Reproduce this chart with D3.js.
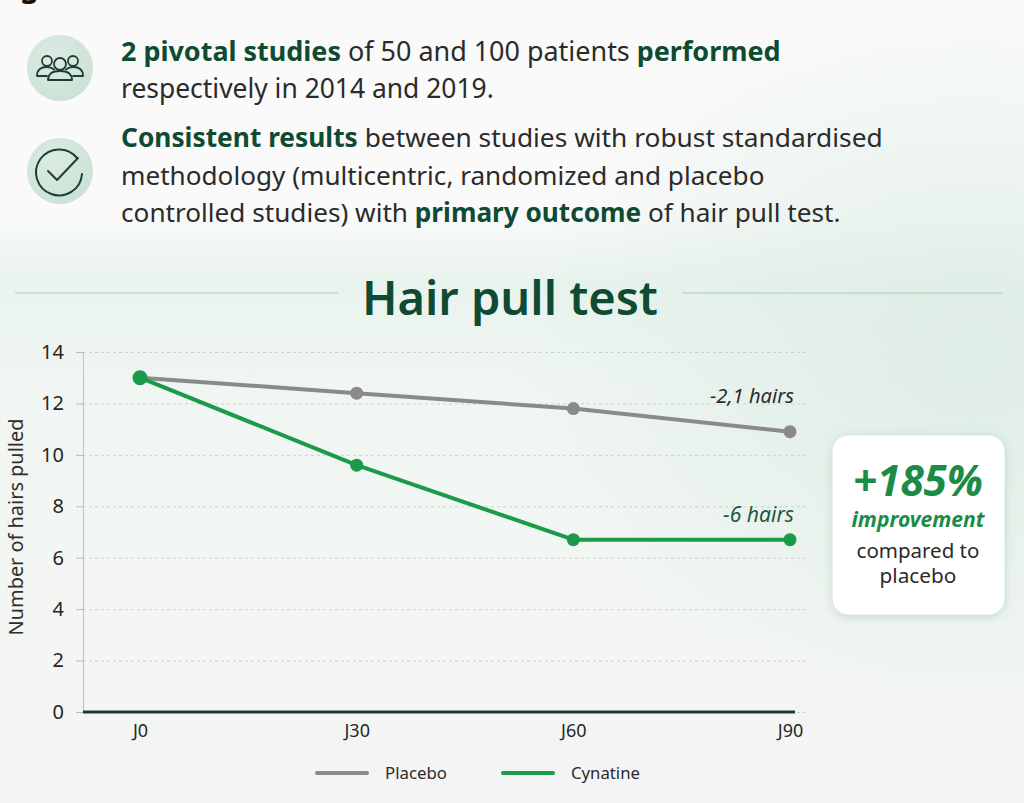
<!DOCTYPE html>
<html>
<head>
<meta charset="utf-8">
<script src="https://cdn.jsdelivr.net/npm/d3@7"></script>
<style>
  html, body { margin: 0; padding: 0; background: #f7f8f7; }
  svg { display: block; font-family: "Noto Sans", "Open Sans", sans-serif; }
</style>
</head>
<body>
<svg id="chart" width="1024" height="803"></svg>
<script>
// ---------- data ----------
const days = ["J0", "J30", "J60", "J90"];
const placebo = [13.0, 12.4, 11.8, 10.9];
const cynatine = [13.0, 9.6, 6.7, 6.7];
const yTicks = [0, 2, 4, 6, 8, 10, 12, 14];
const seriesNames = ["Placebo", "Cynatine"];
const annotations = ["-2,1 hairs", "-6 hairs"];
const boxLines = ["+185%", "improvement", "compared to", "placebo"];
const chartTitle = "Hair pull test";
const yLabel = "Number of hairs pulled";
const headerLines = [
  [["b", "2 pivotal studies"], ["r", " of 50 and 100 patients "], ["b", "performed"]],
  [["r", "respectively in 2014 and 2019."]],
  [["b", "Consistent results"], ["r", " between studies with robust standardised"]],
  [["r", "methodology (multicentric, randomized and placebo"]],
  [["r", "controlled studies) with "], ["b", "primary outcome"], ["r", " of hair pull test."]]
];

// ---------- colours ----------
const C = {
  darkGreen: "#0f4a33",
  text: "#2b2b2b",
  gray: "#8a8a8a",
  green: "#1b9a4a",
  boxGreen: "#1a8c48",
  grid: "#c9d3ce",
  axis: "#1d3b2f"
};

const svg = d3.select("#chart");
const W = 1024, H = 803;

// ---------- background ----------
const defs = svg.append("defs");
const bg = defs.append("linearGradient").attr("id", "bgGrad").attr("x1", 0).attr("y1", 0).attr("x2", 0).attr("y2", 1);
[[0, "#fafafa"], [0.27, "#f9faf9"], [0.35, "#e9f3ee"], [0.5, "#f1f6f3"], [0.8, "#f4f6f4"], [1, "#f3f4f3"]]
  .forEach(s => bg.append("stop").attr("offset", s[0]).attr("stop-color", s[1]));
const rg = defs.append("radialGradient").attr("id", "rGrad").attr("cx", 0.95).attr("cy", 0.45).attr("r", 0.45);
rg.append("stop").attr("offset", 0).attr("stop-color", "#dcece4").attr("stop-opacity", 0.9);
rg.append("stop").attr("offset", 1).attr("stop-color", "#dcece4").attr("stop-opacity", 0);
const iconGrad = defs.append("radialGradient").attr("id", "iconGrad").attr("cx", 0.4).attr("cy", 0.35).attr("r", 0.7);
iconGrad.append("stop").attr("offset", 0).attr("stop-color", "#dcebe3");
iconGrad.append("stop").attr("offset", 1).attr("stop-color", "#cbe1d6");
const shadow = defs.append("filter").attr("id", "shadow").attr("x", "-20%").attr("y", "-20%").attr("width", "140%").attr("height", "140%");
shadow.append("feDropShadow").attr("dx", 0).attr("dy", 2).attr("stdDeviation", 5)
  .attr("flood-color", "#6fa98c").attr("flood-opacity", 0.3);

svg.append("rect").attr("width", W).attr("height", H).attr("fill", "url(#bgGrad)");
svg.append("rect").attr("width", W).attr("height", H).attr("fill", "url(#rGrad)");

// fragment of previous heading at very top (cut off in the original as well)
svg.append("text").attr("x", 20).attr("y", -3).attr("font-size", 30).attr("font-weight", 700)
  .attr("fill", "#111").text("g");

// ---------- helper ----------
function fit(sel, width) {
  const l = sel.node().getComputedTextLength();
  const fs = parseFloat(sel.attr("font-size"));
  sel.attr("font-size", fs * width / l);
}

// ---------- header icons ----------
const icon1 = svg.append("g").attr("transform", "translate(60,68)");
icon1.append("circle").attr("r", 33).attr("fill", "url(#iconGrad)");
const ic = { fill: "none", stroke: "#1d3f33", "stroke-width": 1.8, "stroke-linejoin": "round", "stroke-linecap": "round" };
function applyIc(s) { Object.entries(ic).forEach(([k, v]) => s.attr(k, v)); return s; }
applyIc(icon1.append("circle").attr("cx", 0).attr("cy", -4).attr("r", 6));
applyIc(icon1.append("circle").attr("cx", -13).attr("cy", -7).attr("r", 5));
applyIc(icon1.append("circle").attr("cx", 13).attr("cy", -7).attr("r", 5));
applyIc(icon1.append("path").attr("d", "M-12,12 Q-12,3 0,3 Q12,3 12,12 Z"));
applyIc(icon1.append("path").attr("d", "M-13,8 L-23,8 Q-23,-1 -13,-1 Q-9,-1 -6,1.5"));
applyIc(icon1.append("path").attr("d", "M13,8 L23,8 Q23,-1 13,-1 Q9,-1 6,1.5"));

const icon2 = svg.append("g").attr("transform", "translate(60,171)");
icon2.append("circle").attr("r", 33).attr("fill", "url(#iconGrad)");
applyIc(icon2.append("path").attr("d", "M17,-13 A23,23 0 1 0 22,3")).attr("stroke-width", 2);
applyIc(icon2.append("path").attr("d", "M-12,0 L-3,9 L18,-13")).attr("stroke-width", 2);

// ---------- header text ----------
const headerBaselines = [61, 98, 147, 185, 222];
const headerWidths = [660, 373, 762, 644, 720];
headerLines.forEach((parts, i) => {
  const t = svg.append("text").attr("x", 121).attr("y", headerBaselines[i]).attr("font-size", 27);
  parts.forEach(([k, s]) => {
    t.append("tspan")
      .attr("font-weight", k === "b" ? 700 : 400)
      .attr("fill", k === "b" ? C.darkGreen : C.text)
      .text(s);
  });
  fit(t, headerWidths[i]);
});

// ---------- title ----------
const title = svg.append("text").attr("x", 510).attr("y", 315).attr("text-anchor", "middle")
  .attr("font-size", 54).attr("font-weight", 600).attr("fill", C.darkGreen).text(chartTitle);
fit(title, 296);
svg.append("line").attr("x1", 15).attr("x2", 338).attr("y1", 293).attr("y2", 293)
  .attr("stroke", "#bcd8cb").attr("stroke-width", 1.5);
svg.append("line").attr("x1", 682).attr("x2", 1003).attr("y1", 293).attr("y2", 293)
  .attr("stroke", "#bcd8cb").attr("stroke-width", 1.5);

// ---------- chart ----------
const plotLeft = 83, plotRight = 795, gridRight = 808;
const x = d3.scalePoint().domain(days).range([140, 790]);
const y = d3.scaleLinear().domain([0, 14]).range([712, 352]);

// gridlines
const grid = svg.append("g").attr("transform", `translate(${plotLeft},0)`)
  .call(d3.axisLeft(y).tickValues(yTicks).tickSize(-(gridRight - plotLeft)).tickFormat(""));
grid.select(".domain").remove();
grid.selectAll(".tick line").attr("stroke", C.grid).attr("stroke-dasharray", "3,3").attr("stroke-width", 1);

// y axis
const yAx = svg.append("g").attr("transform", `translate(${plotLeft},0)`)
  .call(d3.axisLeft(y).tickValues(yTicks).tickSize(7).tickPadding(12));
yAx.select(".domain").attr("stroke", "#c4c8c6").attr("stroke-width", 1.2);
yAx.selectAll(".tick line").attr("stroke", "#b5bab7");
yAx.selectAll(".tick text").attr("font-size", 20).attr("fill", "#262626").attr("font-family", "Noto Sans");

// x axis
const xAx = svg.append("g").attr("transform", `translate(0,${y(0)})`)
  .call(d3.axisBottom(x).tickSize(0).tickPadding(12));
xAx.select(".domain").remove();
xAx.selectAll(".tick text").attr("font-size", 18).attr("fill", "#262626").attr("font-family", "Noto Sans");
svg.append("line").attr("x1", plotLeft).attr("x2", plotRight).attr("y1", y(0)).attr("y2", y(0))
  .attr("stroke", C.axis).attr("stroke-width", 3);

// axis label
const yl = svg.append("text").attr("transform", `translate(23,527) rotate(-90)`).attr("text-anchor", "middle")
  .attr("font-size", 17).attr("fill", "#2e2e2e").text(yLabel);
fit(yl, 217);

// lines
const line = d3.line().x((d, i) => x(days[i])).y(d => y(d));
svg.append("path").datum(placebo).attr("d", line).attr("fill", "none")
  .attr("stroke", C.gray).attr("stroke-width", 4).attr("stroke-linejoin", "round");
svg.selectAll(".pdot").data(placebo).join("circle").attr("class", "pdot")
  .attr("cx", (d, i) => x(days[i])).attr("cy", d => y(d)).attr("r", 6.5).attr("fill", C.gray);
svg.append("path").datum(cynatine).attr("d", line).attr("fill", "none")
  .attr("stroke", C.green).attr("stroke-width", 4).attr("stroke-linejoin", "round");
svg.selectAll(".cdot").data(cynatine).join("circle").attr("class", "cdot")
  .attr("cx", (d, i) => x(days[i])).attr("cy", d => y(d)).attr("r", (d, i) => i === 0 ? 7.5 : 6.5)
  .attr("fill", C.green);

// annotations
const a1 = svg.append("text").attr("x", 794).attr("y", 403).attr("text-anchor", "end").attr("font-size", 19)
  .attr("font-style", "italic").attr("fill", "#2b2b2b").text(annotations[0]);
fit(a1, 84);
const a2 = svg.append("text").attr("x", 794).attr("y", 522).attr("text-anchor", "end").attr("font-size", 19)
  .attr("font-style", "italic").attr("fill", "#1d5a3c").text(annotations[1]);
fit(a2, 71);

// legend
const legend = svg.append("g");
const legX = [317, 503];
const legW = [62, 69];
const legColors = [C.gray, C.green];
seriesNames.forEach((n, i) => {
  legend.append("line").attr("x1", legX[i]).attr("x2", legX[i] + 50).attr("y1", 773).attr("y2", 773)
    .attr("stroke", legColors[i]).attr("stroke-width", 4).attr("stroke-linecap", "round");
  const t = legend.append("text").attr("x", legX[i] + 68).attr("y", 779).attr("font-size", 17)
    .attr("fill", "#2b2b2b").text(n);
  fit(t, legW[i]);
});

// ---------- callout box ----------
svg.append("rect").attr("x", 832).attr("y", 435).attr("width", 173).attr("height", 180).attr("rx", 16)
  .attr("fill", "#ffffff").attr("stroke", "#d6e8df").attr("stroke-width", 1).attr("filter", "url(#shadow)");
const bx = 918;
const b1 = svg.append("text").attr("x", bx).attr("y", 496).attr("text-anchor", "middle").attr("font-size", 40)
  .attr("font-weight", 700).attr("font-style", "italic").attr("fill", C.boxGreen).text(boxLines[0]);
fit(b1, 130);
const b2 = svg.append("text").attr("x", bx).attr("y", 527).attr("text-anchor", "middle").attr("font-size", 20)
  .attr("font-weight", 700).attr("font-style", "italic").attr("fill", C.boxGreen).text(boxLines[1]);
fit(b2, 133);
const b3 = svg.append("text").attr("x", bx).attr("y", 558).attr("text-anchor", "middle").attr("font-size", 20)
  .attr("fill", "#2b2b2b").text(boxLines[2]);
fit(b3, 123);
const b4 = svg.append("text").attr("x", bx).attr("y", 583).attr("text-anchor", "middle").attr("font-size", 20)
  .attr("fill", "#2b2b2b").text(boxLines[3]);
fit(b4, 77);
</script>
</body>
</html>
